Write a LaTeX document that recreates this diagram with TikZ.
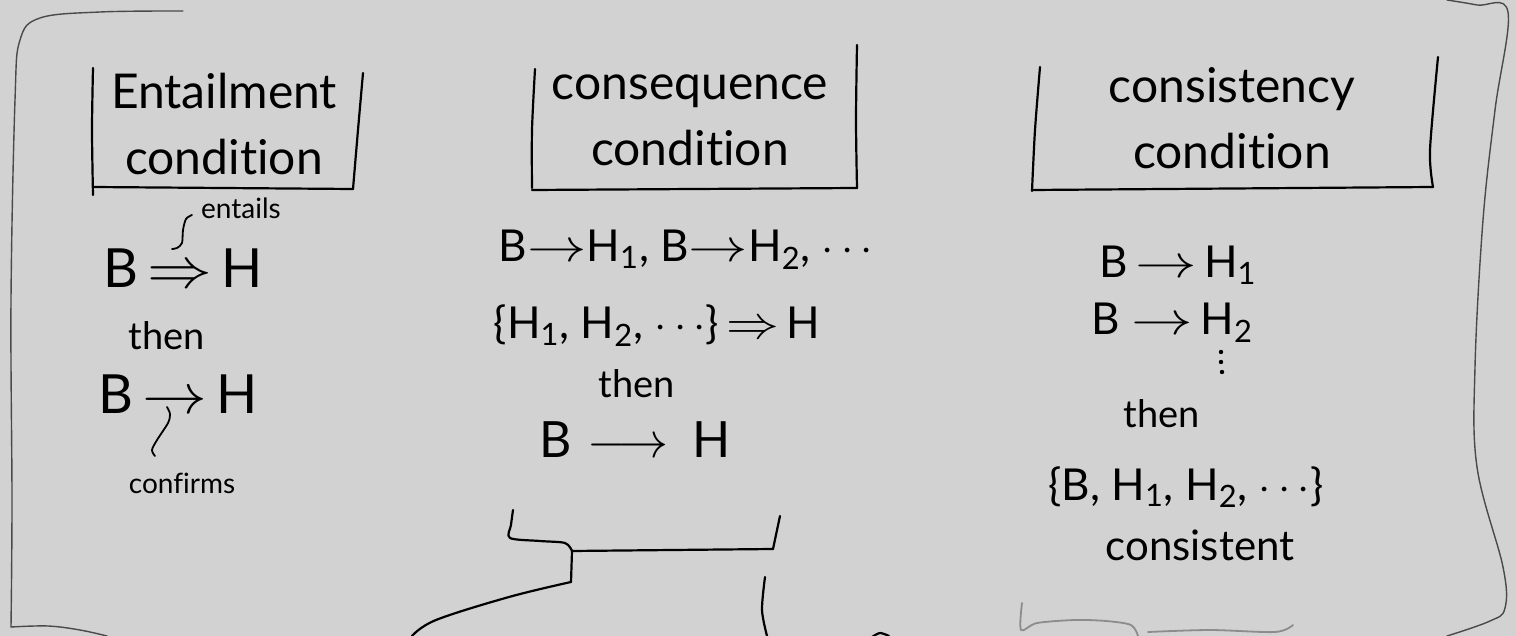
\documentclass[tikz,border=0pt]{standalone}
\usepackage{fix-cm}
\usepackage{fontspec}
\setmainfont[Ligatures=NoCommon]{Lato}
\definecolor{paper}{HTML}{D2D2D2}
\definecolor{pencil}{HTML}{4A4A4A}
\newcommand\widear[2]{\scalebox{#1}[1.05]{$#2$}}
\begin{document}
\begin{tikzpicture}[x=0.5pt,y=-0.5pt,
  ink/.style={line width=1.1pt,line cap=round,line join=round,black},
  frame/.style={line width=0.7pt,line cap=round,line join=round,pencil},
  faint/.style={line width=0.9pt,line cap=round,line join=round,black!45},
  head/.style={font=\fontsize{24}{33}\selectfont,align=center,inner sep=0pt},
  formula/.style={font=\fontsize{22}{26}\selectfont,inner sep=0pt,anchor=base},
  bigformula/.style={font=\fontsize{27}{30}\selectfont,inner sep=0pt,anchor=base},
  word/.style={font=\fontsize{19}{22}\selectfont,inner sep=0pt,anchor=base},
  note/.style={font=\fontsize{14}{16}\selectfont,inner sep=0pt,anchor=base}]
\fill[paper] (0,0) rectangle (1516,636);
\useasboundingbox (0,0) rectangle (1516,636);

% outer frame
\draw[frame] plot[smooth,tension=0.6] coordinates {(183,11) (100,12) (40,18) (20,40) (15,100) (11,300) (12,500) (11,627)};
\draw[frame] plot[smooth,tension=0.6] coordinates {(11,627) (48,626) (80,630) (107,636)};
\draw[frame] plot[smooth,tension=0.6] coordinates {(1447,0) (1477,5) (1508,12) (1495,110) (1483,220) (1475,367) (1477,467) (1503,567) (1505,608) (1490,621) (1447,636)};

% header boxes
\draw[ink] plot[smooth] coordinates {(93,68) (92,130) (93,195)};
\draw[ink] (93,187) -- (353,189);
\draw[ink] plot[smooth] coordinates {(353,189) (358,130) (363,73)};
\node[head] (h1) at (224,124) {Entailment\\condition};

\draw[ink] plot[smooth] coordinates {(535,69) (532,130) (532,188)};
\draw[ink] (532,190) -- (857,188);
\draw[ink] plot[smooth] coordinates {(857,188) (856,120) (857,45)};
\node[head] (h2) at (690,120) {consequence\\condition};

\draw[ink] plot[smooth] coordinates {(1040,67) (1035,130) (1032,191)};
\draw[ink] (1032,190) -- (1433,187);
\draw[ink] plot[smooth] coordinates {(1433,187) (1430,150) (1438,57)};
\node[head] (h3) at (1232,118) {consistency\\condition};

% column 1
\node[note] (ent) at (241,219) {entails};
\node[bigformula] (f1) at (183,288) {B\,\widear{1.2}{\Rightarrow}\,H};
\node[word] (then1) at (167,350) {then};
\node[bigformula] (f2) at (178,414) {B\,\widear{1.2}{\rightarrow}\,H};
\node[note] (conf) at (182,493) {confirms};
\draw[ink,line width=0.9pt] plot[smooth] coordinates {(192,215) (186,219) (183,230) (182,243) (177,248) (172,249)};
\draw[ink,line width=0.9pt] plot[smooth] coordinates {(167,407) (170,414) (168,423) (157,440) (152,450) (155,456)};

% column 2
\node[formula] (c2a) at (686,262) {B\widear{1.35}{\rightarrow}H\textsubscript{1}, B\widear{1.35}{\rightarrow}H\textsubscript{2}, $\cdots$};
\node[formula] (c2b) at (657,339) {\{H\textsubscript{1}, H\textsubscript{2}, $\cdots$\}\,\widear{1.2}{\Rightarrow}\,H};
\node[word] (then2) at (637,398) {then};
\node[formula,font=\fontsize{25}{28}\selectfont] (c2c) at (635,458) {B\hspace{8pt}$\longrightarrow$\hspace{12pt}H};

% column 3
\node[formula] (c3a) at (1178,278) {B\,\widear{1.4}{\rightarrow}\,H\textsubscript{1}};
\node[formula] (c3b) at (1172,335) {B\hspace{6pt}\widear{1.4}{\rightarrow}\,H\textsubscript{2}};
\fill (1221,352) circle (2.2) (1221,362) circle (2.2) (1222,372) circle (2.2);
\node[word] (then3) at (1162,427) {then};
\node[formula] (c3c) at (1186,500) {\{B, H\textsubscript{1}, H\textsubscript{2}, $\cdots$\}};
\node[word,font=\fontsize{21}{24}\selectfont] (cons) at (1200,560) {consistent};

% bottom strokes
\draw[ink] plot[smooth,tension=0.5] coordinates {(513,510) (511,525) (510,538) (540,541) (565,543) (572,551)};
\draw[ink] (572,551) -- (773,549);
\draw[ink] (773,549) -- (780,516);
\draw[ink] (572,551) -- (571,582);
\draw[ink] plot[smooth,tension=0.6] coordinates {(571,582) (509,597) (436,620) (412,636)};
\draw[ink] plot[smooth] coordinates {(765,577) (762,610) (767,636)};
\draw[ink] plot[smooth] coordinates {(872,637) (880,633) (889,636)};
\draw[faint] plot[smooth,tension=0.5] coordinates {(1022,603) (1021,630) (1037,623) (1075,620) (1106,621) (1131,625) (1138,636)};
\draw[faint] plot[smooth,tension=0.5] coordinates {(1148,632) (1210,630) (1275,632) (1293,625)};
\end{tikzpicture}
\end{document}
